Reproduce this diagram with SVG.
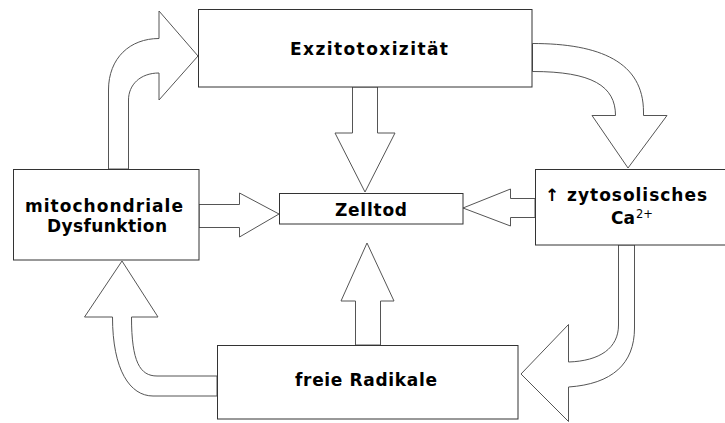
<svg xmlns="http://www.w3.org/2000/svg" width="725" height="423" viewBox="0 0 725 423">
<style>
.box{fill:#fff;stroke:#333;stroke-width:1}
.arr{fill:#fff;stroke:#555;stroke-width:1;stroke-linejoin:miter}
.t{font-family:"DejaVu Sans",Verdana,sans-serif;font-weight:bold;font-size:17px;fill:#000}
.sup{font-family:"DejaVu Sans",Verdana,sans-serif;font-weight:normal;font-size:11.5px;fill:#000}
</style>
<rect width="725" height="423" fill="#fff"/>
<g id="connectors">
<path id="a-mito-exz" class="arr" d="M108.5,169 L108.5,90 C108.5,58 130,38.5 159,38.5 L159,11 L198,56 L159,100 L159,73 C140,73 128.5,85 128.5,100 L128.5,169 Z"/>
<path id="a-exz-zell" class="arr" d="M352.5,87 L352.5,133 L335,133 L365,192 L395,133 L377.5,133 L377.5,87 Z"/>
<path id="a-mito-zell" class="arr" d="M199,204.5 L239.5,204.5 L239.5,193 L279,214 L239.5,237 L239.5,227.5 L199,227.5 Z"/>
<path id="a-zyto-zell" class="arr" d="M535,198.5 L510.5,198.5 L510.5,189 L463,208 L510.5,226 L510.5,217.5 L535,217.5 Z"/>
<path id="a-exz-zyto" class="arr" d="M532.5,43.5 C600,43.5 643.5,62 643.5,112 L643.5,115.5 L667,115.5 L628,168 L592,115.5 L615.5,115.5 C615.5,86 592,71.5 532.5,71.5 Z"/>
<path id="a-zyto-frei" class="arr" d="M618.5,245 L618.5,325 C618.5,348 600,361 568.5,362 L568.5,324.5 L521,374 L568.5,421.5 L568.5,387 C612,384 634.5,364 634.5,328 L634.5,245 Z"/>
<path id="a-frei-mito" class="arr" d="M217,376 L157,376 C140,376 131.5,362 131.5,317 L158,317 L122,261 L84.5,317 L112.5,317 C112.5,370 130,396 153,396 L217,396 Z"/>
<path id="a-frei-zell" class="arr" d="M355.5,345 L355.5,301 L341,301 L367,243 L394,301 L380.5,301 L380.5,345 Z"/>
</g>
<g id="node-exzitotoxizitaet">
<rect class="box" x="198.5" y="9.5" width="333.5" height="77.5"/>
<text class="t" x="290" y="55" textLength="158" lengthAdjust="spacing">Exzitotoxizität</text>
</g>
<g id="node-zelltod">
<rect class="box" x="279.5" y="193.5" width="183.5" height="30.5"/>
<text class="t" x="335" y="216" textLength="72" lengthAdjust="spacing">Zelltod</text>
</g>
<g id="node-mito">
<rect class="box" x="13.5" y="169.5" width="185.5" height="90.5"/>
<text class="t" x="25" y="212" textLength="158" lengthAdjust="spacing">mitochondriale</text>
<text class="t" x="47" y="232" textLength="120" lengthAdjust="spacing">Dysfunktion</text>
</g>
<g id="node-zyto">
<rect class="box" x="535.5" y="169.5" width="200" height="75.5"/>
<text class="t" x="545" y="201" textLength="162" lengthAdjust="spacing">↑ zytosolisches</text>
<text class="t" x="611" y="224" textLength="24" lengthAdjust="spacing">Ca</text>
<text class="sup" x="636" y="218" textLength="17" lengthAdjust="spacing">2+</text>
</g>
<g id="node-frei">
<rect class="box" x="217.5" y="345.5" width="300.5" height="73.5"/>
<text class="t" x="295" y="386" textLength="142" lengthAdjust="spacing">freie Radikale</text>
</g>
</svg>
